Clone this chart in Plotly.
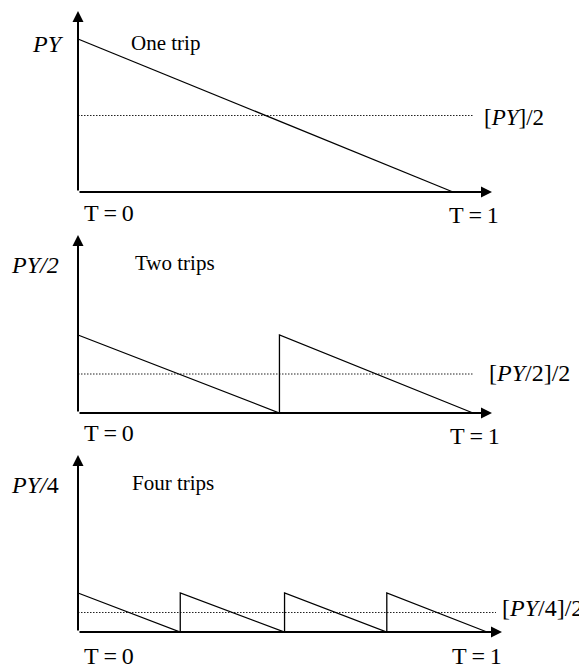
import plotly.graph_objects as go

# The page body keeps the browser's default 8px margin, so the figure is
# drawn 8px in from the top-left corner of the 587x668 window.
OFF = 8
W, H = 587 - OFF, 668 - OFF

# ---- data (values in units of PY, time in units of T) ----
t_one = [0, 1]
v_one = [1, 0]
t_two = [0, 0.51, 0.51, 1]
v_two = [0.5, 0, 0.5, 0]
t_four = [0, 0.25, 0.25, 0.505, 0.505, 0.755, 0.755, 1]
v_four = [0.25, 0, 0.25, 0, 0.25, 0, 0.25, 0]

avg_vals = [0.5, 0.25, 0.125]          # average stock level (dotted)
avg_ends = [1.053, 1.0, 1.022]         # dotted line extent in T
panel_names = ["One trip", "Two trips", "Four trips"]
y_labels = ["<i>PY</i>", "<i>PY/2</i>", "<i>PY/</i>4"]
avg_labels = ["[<i>PY</i>]/2", "[<i>PY</i>/2]/2", "[<i>PY</i>/4]/2"]
t_start_label = "T\u2009=\u20090"
t_end_label = "T\u2009=\u20091"

series_t = [t_one, t_two, t_four]
series_v = [v_one, v_two, v_four]

# ---- layout geometry (window pixels) ----
geo = [
    dict(x0=78, x1=453, y0=192, s=153, top=0, bot=222, ytip=8, xtip=495),
    dict(x0=78, x1=473, y0=413, s=156, top=222, bot=445, ytip=232, xtip=495),
    dict(x0=78, x1=487, y0=632, s=156, top=445, bot=668, ytip=452, xtip=505),
]

FONT = "Liberation Serif"
fig = go.Figure()
layout = dict(width=W, height=H, margin=dict(l=0, r=0, t=0, b=0),
              paper_bgcolor="white", plot_bgcolor="rgba(0,0,0,0)",
              showlegend=False)
annotations = []


def fx(x):   # window px -> figure px
    return x - OFF


def fy(y):
    return y - OFF


def px(x):
    return fx(x) / W


def py(y):
    return 1 - fy(y) / H


for i, g in enumerate(geo):
    k = "" if i == 0 else str(i + 1)
    xs = g["x1"] - g["x0"]
    x0, y0 = fx(g["x0"]), fy(g["y0"])
    top, bot = max(fy(g["top"]), 0), min(fy(g["bot"]), H)
    xr = [-x0 / xs, (W - x0) / xs]
    yr = [-(bot - y0) / g["s"], (y0 - top) / g["s"]]
    layout["xaxis" + k] = dict(domain=[0, 1], range=xr, visible=False,
                               anchor="y" + k, fixedrange=True)
    layout["yaxis" + k] = dict(domain=[1 - bot / H, 1 - top / H],
                               range=yr, visible=False, anchor="x" + k,
                               fixedrange=True)
    xref, yref = "x" + k, "y" + k

    # dotted average line
    fig.add_trace(go.Scatter(x=[0, avg_ends[i]], y=[avg_vals[i], avg_vals[i]],
                             mode="lines", xaxis=xref, yaxis=yref,
                             line=dict(color="#222222", width=1,
                                       dash="1.5px,1.5px"),
                             hoverinfo="skip"))
    # sawtooth
    fig.add_trace(go.Scatter(x=series_t[i], y=series_v[i], mode="lines",
                             xaxis=xref, yaxis=yref,
                             line=dict(color="black", width=1.3),
                             hoverinfo="skip"))

    # axes with arrows
    ylen = g["y0"] - (g["ytip"] + 3)
    annotations.append(dict(x=0, y=ylen / g["s"], xref=xref, yref=yref,
                            ax=0, ay=ylen, showarrow=True, text="",
                            arrowhead=2, arrowwidth=2, arrowsize=1.1,
                            arrowcolor="black"))
    xlen = (g["xtip"] - 3) - g["x0"]
    annotations.append(dict(x=xlen / xs, y=0, xref=xref, yref=yref,
                            ax=-xlen, ay=0, showarrow=True, text="",
                            arrowhead=2, arrowwidth=2, arrowsize=1.1,
                            arrowcolor="black"))

# text labels: (text, x px, y px, xanchor, size)
labels = [
    (y_labels[0], 48, 44, "center", 24),
    (panel_names[0], 129, 43, "left", 21),
    (avg_labels[0], 482, 118, "left", 23),
    (t_start_label, 82, 213, "left", 24),
    (t_end_label, 447, 215, "left", 24),
    (y_labels[1], 9, 265, "left", 24),
    (panel_names[1], 133, 263, "left", 21),
    (avg_labels[1], 487, 373, "left", 24),
    (t_start_label, 82, 433, "left", 24),
    (t_end_label, 448, 436, "left", 24),
    (y_labels[2], 9, 485, "left", 24),
    (panel_names[2], 130, 483, "left", 21),
    (avg_labels[2], 500, 608, "left", 24),
    (t_start_label, 82, 656, "left", 24),
    (t_end_label, 450, 656, "left", 24),
]
for text, x, y, xa, size in labels:
    annotations.append(dict(text=text, x=px(x), y=py(y), xref="paper",
                            yref="paper", xanchor=xa, yanchor="middle",
                            showarrow=False,
                            font=dict(family=FONT, size=size, color="black")))

layout["annotations"] = annotations
fig.update_layout(**layout)
fig.write_html("out.html")
